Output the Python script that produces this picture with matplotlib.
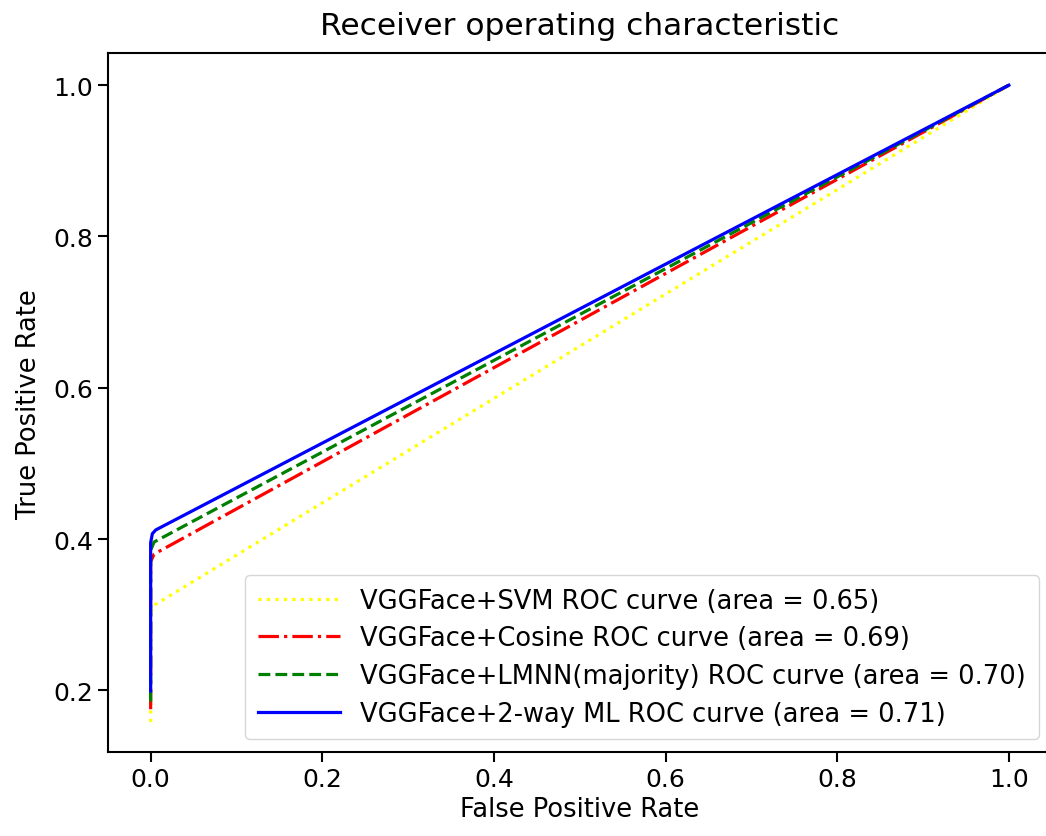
import matplotlib
matplotlib.use("Agg")
import matplotlib.pyplot as plt

# ROC curve points (fpr, tpr)
svm_fpr = [0.0, 0.0, 0.002, 1.0]
svm_tpr = [0.158, 0.30, 0.311, 1.0]

cos_fpr = [0.0, 0.0, 0.004, 1.0]
cos_tpr = [0.175, 0.37, 0.380, 1.0]

lmnn_fpr = [0.0, 0.0, 0.004, 1.0]
lmnn_tpr = [0.185, 0.385, 0.396, 1.0]

ml_fpr = [0.0, 0.0, 0.002, 0.006, 1.0]
ml_tpr = [0.199, 0.395, 0.407, 0.412, 1.0]

labels = [
    "VGGFace+SVM ROC curve (area = 0.65)",
    "VGGFace+Cosine ROC curve (area = 0.69)",
    "VGGFace+LMNN(majority) ROC curve (area = 0.70)",
    "VGGFace+2-way ML ROC curve (area = 0.71)",
]

fig = plt.figure(figsize=(10.46, 8.37), dpi=100)
# right spine falls just outside the picture, as in the cropped original
ax = fig.add_axes([0.103, 0.100, 0.9025, 0.835])

ax.plot(svm_fpr, svm_tpr, color="yellow", ls=":", lw=2.3, label=labels[0])
ax.plot(cos_fpr, cos_tpr, color="red", ls="-.", lw=2.3, label=labels[1])
ax.plot(lmnn_fpr, lmnn_tpr, color="green", ls="--", lw=2.3, label=labels[2])
ax.plot(ml_fpr, ml_tpr, color="blue", ls="-", lw=2.3, label=labels[3])

ax.set_xlim(-0.05, 1.05)
ax.set_ylim(0.118, 1.042)
ax.set_xticks([0.0, 0.2, 0.4, 0.6, 0.8, 1.0])
ax.set_yticks([0.2, 0.4, 0.6, 0.8, 1.0])
ax.tick_params(labelsize=18, length=7, width=1.5)
for s in ax.spines.values():
    s.set_linewidth(1.5)
ax.set_xlabel("False Positive Rate", fontsize=18.5, labelpad=4)
ax.set_ylabel("True Positive Rate", fontsize=18.5, labelpad=8)
ax.set_title("Receiver operating characteristic", fontsize=22.5, pad=14)
ax.legend(loc="lower right", fontsize=18.5, handlelength=3.2, borderpad=0.5,
          labelspacing=0.45)

fig.savefig("out.png", dpi=100)
